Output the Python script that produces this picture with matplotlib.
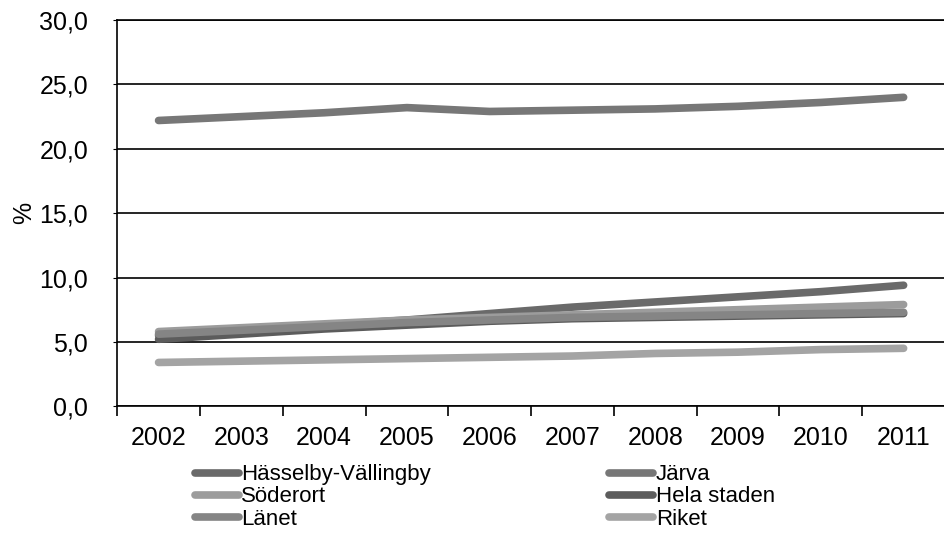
import matplotlib
matplotlib.use("Agg")
import matplotlib.pyplot as plt
from matplotlib.ticker import FuncFormatter, MultipleLocator
import numpy as np

plt.rcParams["font.family"] = ["Liberation Sans", "DejaVu Sans"]

years = ["2002", "2003", "2004", "2005", "2006", "2007", "2008", "2009", "2010", "2011"]

hasselby = [5.5, 5.9, 6.3, 6.7, 7.2, 7.7, 8.1, 8.5, 8.9, 9.4]
jarva = [22.2, 22.5, 22.8, 23.2, 22.9, 23.0, 23.1, 23.3, 23.6, 24.0]
soderort = [5.8, 6.1, 6.4, 6.7, 6.9, 7.1, 7.3, 7.5, 7.7, 7.9]
hela_staden = [5.2, 5.6, 6.0, 6.3, 6.6, 6.8, 6.9, 7.0, 7.1, 7.2]
lanet = [5.6, 5.9, 6.2, 6.5, 6.7, 6.9, 7.0, 7.1, 7.2, 7.3]
riket = [3.4, 3.5, 3.6, 3.7, 3.8, 3.9, 4.1, 4.2, 4.4, 4.5]

series = [
    ("Hässelby-Vällingby", hasselby, "#6a6a6a"),
    ("Järva", jarva, "#777777"),
    ("Söderort", soderort, "#9c9c9c"),
    ("Hela staden", hela_staden, "#5c5c5c"),
    ("Länet", lanet, "#858585"),
    ("Riket", riket, "#a4a4a4"),
]

fig = plt.figure(figsize=(9.45, 5.58), dpi=100)
ax = fig.add_axes([0.124, 0.272, 0.876, 0.692])

x = np.arange(len(years))
lines = {}
for label, vals, col in series:
    (ln,) = ax.plot(x, vals, color=col, lw=5.5, solid_capstyle="round", label=label)
    lines[label] = ln

ax.set_xlim(-0.5, len(years) - 0.5)
ax.set_ylim(0, 30)
ax.yaxis.set_major_locator(MultipleLocator(5))
ax.yaxis.set_major_formatter(FuncFormatter(lambda v, p: f"{v:.1f}".replace(".", ",")))
ax.grid(axis="y", color="black", lw=1.2)
ax.set_axisbelow(True)

ax.set_xticks(x)
ax.set_xticklabels(years)
ax.set_xticks(np.arange(-0.5, len(years), 1), minor=True)
ax.tick_params(axis="x", which="major", length=0, labelsize=18, pad=14)
ax.tick_params(axis="x", which="minor", length=7, width=1.2, direction="out")
ax.tick_params(axis="y", length=3, labelsize=18, pad=18)

ax.spines["right"].set_visible(False)
for s in ["left", "bottom", "top"]:
    ax.spines[s].set_linewidth(1.2)

ax.set_ylabel("%", fontsize=18, labelpad=2)

order = ["Hässelby-Vällingby", "Söderort", "Länet", "Järva", "Hela staden", "Riket"]
fig.legend([lines[k] for k in order], order, loc="lower left",
           bbox_to_anchor=(0.192, 0.027), ncol=2, frameon=False,
           fontsize=16, handlelength=2.0, handletextpad=0.1, columnspacing=8.0,
           labelspacing=0.05, borderaxespad=0.2)

fig.savefig("out.png", dpi=100)
